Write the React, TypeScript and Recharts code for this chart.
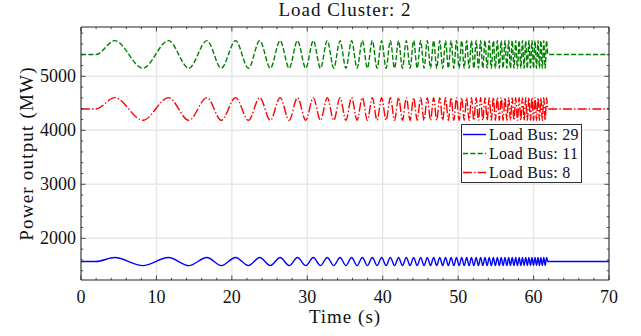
import { LineChart, Line, XAxis, YAxis, CartesianGrid, Legend, ReferenceArea } from "recharts";

document.body.style.margin = "0";

// chirp excitation on load cluster 2 — all three buses swing in phase
const chirpStart = 2;
const chirpEnd = 61.9;
const endTime = 70;

// times (s) of the crests and troughs of the swing
const crestTimes = [
  4.47, 11.6, 16.7, 20.5, 23.7, 26.4, 28.7, 30.8, 32.65, 34.34, 35.88, 37.3,
  38.62, 39.86, 41.01, 42.1, 43.13, 44.1, 45.03, 45.91, 46.75, 47.56, 48.33,
  49.07, 49.78, 50.47, 51.13, 51.77, 52.39, 52.98, 53.56, 54.12, 54.67, 55.2,
  55.71, 56.21, 56.7, 57.17, 57.63, 58.09, 58.53, 58.96, 59.38, 59.79, 60.19,
  60.59, 60.97, 61.35, 61.72,
];
const troughTimes = [
  8.2, 14.3, 18.6, 22.2, 25.1, 27.6, 29.8, 31.75, 33.51, 35.12, 36.6, 37.97,
  39.25, 40.45, 41.57, 42.62, 43.63, 44.57, 45.48, 46.34, 47.16, 47.95, 48.7,
  49.43, 50.13, 50.8, 51.45, 52.08, 52.69, 53.27, 53.84, 54.4, 54.93, 55.46,
  55.96, 56.46, 56.94, 57.4, 57.86, 58.31, 58.74, 59.17, 59.59, 59.99, 60.39,
  60.78, 61.16, 61.54,
];

const busNames = ["Load Bus: 29", "Load Bus: 11", "Load Bus: 8"];
const steadyMW = [1570, 5405, 4395];
const crestMW = [1645, 5660, 4605];
const troughMW = [1495, 5150, 4185];

const xMajor = [0, 10, 20, 30, 40, 50, 60, 70];
const xTicks = [
  0, 2, 4, 6, 8, 10, 12, 14, 16, 18, 20, 22, 24, 26, 28, 30, 32, 34, 36, 38,
  40, 42, 44, 46, 48, 50, 52, 54, 56, 58, 60, 62, 64, 66, 68, 70,
];
const yMajor = [2000, 3000, 4000, 5000];
const yTicks = [
  1400, 1600, 1800, 2000, 2200, 2400, 2600, 2800, 3000, 3200, 3400, 3600,
  3800, 4000, 4200, 4400, 4600, 4800, 5000, 5200, 5400, 5600, 5800,
];

const X_DOMAIN: [number, number] = [0, 70];
const Y_DOMAIN: [number, number] = [1228, 5913];

const SERIES = [
  { key: "bus29", color: "#0000ff", dash: undefined as string | undefined },
  { key: "bus11", color: "#008000", dash: "5.1 2.2" },
  { key: "bus8", color: "#ff0000", dash: "8.9 2.2 1.4 2.2" },
];

const levelRow = (t: number, levels: number[]) => {
  const row: Record<string, number> = { t };
  SERIES.forEach((s, i) => (row[s.key] = levels[i]));
  return row;
};

const swing = [
  ...crestTimes.map((t) => ({ t, levels: crestMW })),
  ...troughTimes.map((t) => ({ t, levels: troughMW })),
].sort((a, b) => a.t - b.t);

const data = [
  levelRow(0, steadyMW),
  levelRow(chirpStart, steadyMW),
  ...swing.map((p) => levelRow(p.t, p.levels)),
  levelRow(chirpEnd, steadyMW),
  levelRow(endTime, steadyMW),
];

const W = 641;
const H = 336;
const PLOT_TOP = 27;
const PLOT_BOTTOM = 280;
const PLOT_LEFT = 81;
const PLOT_RIGHT = 609;
const FONT = "'Liberation Serif', 'Times New Roman', serif";
const INK = "#111";
const AXIS = "#222";

function TimeTick({ x, payload }: any) {
  const major = xMajor.includes(payload.value);
  const len = major ? 4.5 : 2.2;
  return (
    <g>
      <line x1={x} x2={x} y1={PLOT_BOTTOM} y2={PLOT_BOTTOM - len} stroke={AXIS} strokeWidth={0.8} />
      <line x1={x} x2={x} y1={PLOT_TOP} y2={PLOT_TOP + len} stroke={AXIS} strokeWidth={0.8} />
      {major && (
        <text x={x} y={PLOT_BOTTOM + 23} textAnchor="middle" fontSize={18} fontFamily={FONT} fill={INK}>
          {payload.value}
        </text>
      )}
    </g>
  );
}

function PowerTick({ y, payload }: any) {
  const major = yMajor.includes(payload.value);
  const len = major ? 4.5 : 2.2;
  return (
    <g>
      <line x1={PLOT_LEFT} x2={PLOT_LEFT + len} y1={y} y2={y} stroke={AXIS} strokeWidth={0.8} />
      <line x1={PLOT_RIGHT} x2={PLOT_RIGHT - len} y1={y} y2={y} stroke={AXIS} strokeWidth={0.8} />
      {major && (
        <text x={PLOT_LEFT - 5} y={y + 6} textAnchor="end" fontSize={18} fontFamily={FONT} fill={INK}>
          {payload.value}
        </text>
      )}
    </g>
  );
}

function LegendBox() {
  return (
    <div
      style={{
        border: "1px solid #333",
        background: "#fff",
        width: 121,
        boxSizing: "border-box",
        fontFamily: FONT,
        fontSize: 16,
        letterSpacing: 0.3,
        color: INK,
      }}
    >
      {SERIES.map((s, i) => (
        <div key={s.key} style={{ display: "flex", alignItems: "center", height: 19 }}>
          <svg width={25} height={19} style={{ flex: "none" }}>
            <line x1={1} x2={24} y1={9.5} y2={9.5} stroke={s.color} strokeWidth={1.4} strokeDasharray={s.dash} />
          </svg>
          <span style={{ marginLeft: 2, lineHeight: "19px" }}>{busNames[i]}</span>
        </div>
      ))}
    </div>
  );
}

export default function App() {
  return (
    <div style={{ position: "relative", width: W, height: H, background: "#fff" }}>
      <LineChart
        width={W}
        height={H}
        data={data}
        margin={{ top: PLOT_TOP, right: W - PLOT_RIGHT, bottom: 0, left: 0 }}
      >
        <CartesianGrid
          verticalValues={xMajor}
          horizontalValues={yMajor}
          stroke="#e6e6e6"
          strokeWidth={1.4}
        />
        <XAxis
          dataKey="t"
          type="number"
          domain={X_DOMAIN}
          ticks={xTicks}
          interval={0}
          tick={<TimeTick />}
          tickLine={false}
          axisLine={false}
          height={H - PLOT_BOTTOM}
        />
        <YAxis
          type="number"
          domain={Y_DOMAIN}
          ticks={yTicks}
          interval={0}
          tick={<PowerTick />}
          tickLine={false}
          axisLine={false}
          width={PLOT_LEFT}
        />
        {SERIES.map((s, i) => (
          <Line
            key={s.key}
            dataKey={s.key}
            name={busNames[i]}
            type="monotone"
            stroke={s.color}
            strokeWidth={1.4}
            strokeDasharray={s.dash}
            dot={false}
            activeDot={false}
            isAnimationActive={false}
          />
        ))}
        <ReferenceArea
          x1={X_DOMAIN[0]}
          x2={X_DOMAIN[1]}
          y1={Y_DOMAIN[0]}
          y2={Y_DOMAIN[1]}
          fill="none"
          stroke={AXIS}
          strokeWidth={1}
          ifOverflow="visible"
        />
        <Legend
          layout="vertical"
          align="center"
          verticalAlign="middle"
          wrapperStyle={{ left: 461, top: 124, width: 121 }}
          content={() => <LegendBox />}
        />
      </LineChart>
      <svg
        width={W}
        height={H}
        style={{ position: "absolute", left: 0, top: 0, pointerEvents: "none" }}
        fontFamily={FONT}
        fill={INK}
      >
        <text x={345} y={16} textAnchor="middle" fontSize={19} letterSpacing={1}>
          Load Cluster: 2
        </text>
        <text x={345} y={323} textAnchor="middle" fontSize={19} letterSpacing={1}>
          Time (s)
        </text>
        <text transform="translate(33,153.5) rotate(-90)" textAnchor="middle" fontSize={19} letterSpacing={1.2}>
          Power output (MW)
        </text>
      </svg>
    </div>
  );
}
